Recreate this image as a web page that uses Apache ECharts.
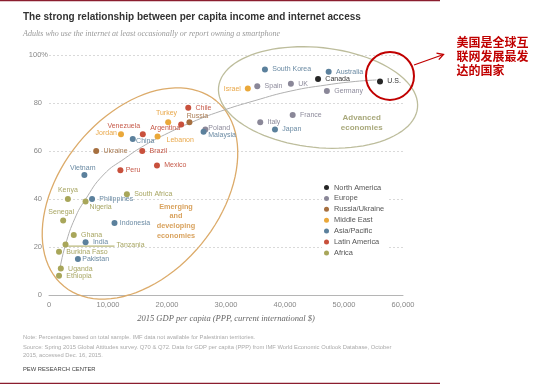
<!DOCTYPE html>
<html><head><meta charset="utf-8">
<script src="https://cdn.jsdelivr.net/npm/echarts@6/dist/echarts.min.js"></script>
<style>html,body{margin:0;padding:0;background:#fff}#c{width:547px;height:388px}</style>
</head><body><div id="c"></div>
<script>
// ---- data ----
const regions = ['North America','Europe','Russia/Ukraine','Middle East','Asia/Pacific','Latin America','Africa'];
const northAmerica = [['U.S.',56100,89],['Canada',45600,90]];
const europe = [['Spain',35300,87],['UK',41000,88],['Germany',47100,85],['France',41300,75],['Italy',35800,72],['Poland',26500,69]];
const russiaUkraine = [['Russia',23800,72],['Ukraine',8000,60]];
const middleEast = [['Israel',33700,86],['Turkey',20200,72],['Jordan',12200,67],['Lebanon',18400,66]];
const asiaPacific = [['South Korea',36600,94],['Australia',47400,93],['Japan',38300,69],['Malaysia',26200,68],['China',14200,65],['Vietnam',6000,50],['Philippines',7300,40],['Indonesia',11100,30],['India',6200,22],['Pakistan',4900,15]];
const latinAmerica = [['Chile',23600,78],['Venezuela',15900,67],['Argentina',22400,71],['Brazil',15800,60],['Peru',12100,52],['Mexico',18300,54]];
const africa = [['South Africa',13200,42],['Kenya',3200,40],['Nigeria',6200,39],['Senegal',2400,31],['Ghana',4200,25],['Tanzania',2800,21],['Burkina Faso',1700,18],['Uganda',2000,11],['Ethiopia',1700,8]];
const trendX = [1850, 2800, 4400, 6100, 9200, 12900, 16300, 20200, 24200, 29000, 34900, 41000, 47000, 52000, 55500];
const trendY = [11, 21, 32, 39.5, 50, 57, 62.5, 67.5, 72, 76.5, 81, 85, 87.5, 89, 89.6];
const xTicks = [0, 10000, 20000, 30000, 40000, 50000, 60000];
const yTicks = [0, 20, 40, 60, 80, 100];

// ---- styles ----
const dotColors = ['#262626','#8a8798','#a66f3f','#eaa83a','#5b809c','#c8503c','#a8a65a'];
const labelColors = ['#333333','#8e8c9c','#a87a52','#e9a84a','#6a8aa3','#c65a4a','#a8a663'];
const regionData = [northAmerica, europe, russiaUkraine, middleEast, asiaPacific, latinAmerica, africa];
const labelPlace = {
  'Turkey':[-1.7,-9,'center'], 'Russia':[-2.7,-5.7,'left'], 'Venezuela':[-2.7,-7.7,'right'],
  'Argentina':[-1,3.5,'right'], 'Jordan':[-4,-1,'right'], 'China':[3.3,1.7,'left'],
  'Lebanon':[9,3,'left'], 'Poland':[3,-1.5,'left'], 'Malaysia':[4.7,3,'left'],
  'Vietnam':[-1.7,-7,'center'], 'Kenya':[0,-8.7,'center'], 'Nigeria':[4,5.3,'left'],
  'Senegal':[-2,-8.3,'center'], 'Tanzania':[51,0.7,'left'], 'Israel':[-7,0,'right'],
  'Pakistan':[4.3,0,'left'], 'Indonesia':[5.3,0,'left'], 'Peru':[5.3,0,'left']
};
const SANS = 'Liberation Sans, Arial, sans-serif';
const SERIF = 'Liberation Serif, Times New Roman, serif';

const chart = echarts.init(document.getElementById('c'), null, {renderer:'canvas'});

const scatterSeries = regions.map((r, i) => ({
  name: r, type: 'scatter', symbolSize: 6, z: 5,
  itemStyle: {color: dotColors[i], opacity: 1},
  emphasis: {disabled: true},
  label: {show: true, fontSize: 7, fontFamily: SANS, color: labelColors[i], formatter: p => p.name},
  data: regionData[i].map(d => {
    const pl = labelPlace[d[0]] || [7.3, 0, 'left'];
    return {name: d[0], value: [d[1], d[2]],
      label: {position: [3 + pl[0], 3 + pl[1]], align: pl[2], verticalAlign: 'middle'}};
  })
}));

function findPoint(arr, name){ const d = arr.find(e => e[0] === name); return [d[1], d[2]]; }

// ellipse annotations: centre in data space, semi-axes in px, rotation in degrees (anticlockwise)
const ellipses = [
  {c:[15420, 42.3], a:120, b:79.5, rot:50.7, color:'#dcab6a'},
  {c:[45600, 82.3], a:100, b:50, rot:-6, color:'#bdbd9c'}
];
function ellipsePts(cx, cy, a, b, deg){
  const th = deg*Math.PI/180, pts = [];
  for (let k=0;k<96;k++){
    const t = k/96*2*Math.PI;
    pts.push([cx + a*Math.cos(t)*Math.cos(th) + b*Math.sin(t)*Math.sin(th),
              cy - a*Math.cos(t)*Math.sin(th) + b*Math.sin(t)*Math.cos(th)]);
  }
  return pts;
}

const usPt = findPoint(northAmerica, 'U.S.');
const tzPt = findPoint(africa, 'Tanzania');

const option = {
  animation: false,
  grid: {left: 49, right: 144, top: 55, bottom: 93, containLabel: false},
  xAxis: {type:'value', min: xTicks[0], max: xTicks[xTicks.length-1], interval: 10000,
    axisLine:{show:true, lineStyle:{color:'#b5b5b5', width:1}}, axisTick:{show:false},
    splitLine:{show:false},
    axisLabel:{fontSize:7.5, color:'#888', fontFamily:SANS, margin:6},
    name:'2015 GDP per capita (PPP, current international $)', nameLocation:'middle', nameGap:19,
    nameTextStyle:{fontFamily:SERIF, fontStyle:'italic', fontSize:8.5, color:'#666'}},
  yAxis: {type:'value', min: yTicks[0], max: yTicks[yTicks.length-1], interval: 20,
    axisLine:{show:false}, axisTick:{show:false},
    splitLine:{show:true, lineStyle:{color:'#d9d9d9', type:[2,2], width:1}},
    axisLabel:{fontSize:7.5, color:'#888', fontFamily:SANS, margin:1,
      formatter: v => v === 100 ? '100%' : '{n|' + v + '}',
      rich:{n:{fontSize:7.5, color:'#888', fontFamily:SANS, padding:[0,6,0,0]}}}},
  legend: {data: regions, orient:'vertical', left:322, top:181, icon:'circle', itemWidth:5, itemHeight:5,
    itemGap:1.9, padding:[2,3,2,2], backgroundColor:'#fff', selectedMode:false,
    textStyle:{fontSize:7.4, color:'#555', fontFamily:SANS, lineHeight:9}},
  series: [
    {name:'trend', type:'line', data: trendX.map((x,i)=>[x, trendY[i]]), smooth:true, symbol:'none',
      lineStyle:{color:'#b0b0b0', width:1}, z:2, silent:true},
    {name:'ellipses', type:'custom', z:1, silent:true, clip:false,
      data: ellipses.map(e => [e.c[0], e.c[1]]),
      renderItem: (params, api) => {
        const e = ellipses[params.dataIndex];
        const p = api.coord([api.value(0), api.value(1)]);
        return {type:'polygon', shape:{points: ellipsePts(p[0], p[1], e.a, e.b, e.rot)},
          style:{fill:'none', stroke:e.color, lineWidth:1.3}};
      }},
    {name:'callout', type:'custom', z:6, silent:true, clip:false,
      data: [usPt],
      renderItem: (params, api) => {
        const p = api.coord([api.value(0), api.value(1)]);
        return {type:'circle', shape:{cx:p[0]+10, cy:p[1]-5.5, r:24},
          style:{fill:'none', stroke:'#c00000', lineWidth:2}};
      }},
    {name:'leader', type:'custom', z:3, silent:true, clip:false,
      data: [tzPt],
      renderItem: (params, api) => {
        const p = api.coord([api.value(0), api.value(1)]);
        return {type:'line', shape:{x1:p[0]-2, y1:p[1]+1.5, x2:p[0]+49, y2:p[1]+1.5},
          style:{stroke:'#a8a65a', lineWidth:1}};
      }},
    ...scatterSeries
  ],
  graphic: [
    {type:'rect', left:0, top:0, shape:{width:440, height:1.3}, style:{fill:'#8b1d2e'}},
    {type:'rect', left:0, top:382.8, shape:{width:440, height:1.3}, style:{fill:'#8b1d2e'}},
    {type:'text', x:23, y:17.5, style:{text:'The strong relationship between per capita income and internet access',
      fontSize:10, fontWeight:'bold', fontFamily:SANS, fill:'#333', textVerticalAlign:'middle'}},
    {type:'text', x:23, y:33.5, style:{text:'Adults who use the internet at least occasionally or report owning a smartphone',
      fontSize:8, fontStyle:'italic', fontFamily:SERIF, fill:'#999', textVerticalAlign:'middle'}},
    {type:'text', x:361.7, y:117.3, style:{text:'Advanced', fontSize:8, fontWeight:'bold', fontFamily:SANS, fill:'#a9a97c', textAlign:'center', textVerticalAlign:'middle'}},
    {type:'text', x:361.7, y:127.5, style:{text:'economies', fontSize:8, fontWeight:'bold', fontFamily:SANS, fill:'#a9a97c', textAlign:'center', textVerticalAlign:'middle'}},
    {type:'text', x:176, y:206.7, style:{text:'Emerging', fontSize:7.3, fontWeight:'bold', fontFamily:SANS, fill:'#d9a35f', textAlign:'center', textVerticalAlign:'middle'}},
    {type:'text', x:176, y:216, style:{text:'and', fontSize:7.3, fontWeight:'bold', fontFamily:SANS, fill:'#d9a35f', textAlign:'center', textVerticalAlign:'middle'}},
    {type:'text', x:176, y:225.5, style:{text:'developing', fontSize:7.3, fontWeight:'bold', fontFamily:SANS, fill:'#d9a35f', textAlign:'center', textVerticalAlign:'middle'}},
    {type:'text', x:176, y:236, style:{text:'economies', fontSize:7.3, fontWeight:'bold', fontFamily:SANS, fill:'#d9a35f', textAlign:'center', textVerticalAlign:'middle'}},
    {type:'text', x:23, y:337.7, style:{text:'Note: Percentages based on total sample. IMF data not available for Palestinian territories.',
      fontSize:5.8, fontFamily:SANS, fill:'#aaa', textVerticalAlign:'middle'}},
    {type:'text', x:23, y:347.3, style:{text:'Source: Spring 2015 Global Attitudes survey. Q70 & Q72. Data for GDP per capita (PPP) from IMF World Economic Outlook Database, October',
      fontSize:5.8, fontFamily:SANS, fill:'#aaa', textVerticalAlign:'middle'}},
    {type:'text', x:23, y:355.8, style:{text:'2015, accessed Dec. 16, 2015.',
      fontSize:5.8, fontFamily:SANS, fill:'#aaa', textVerticalAlign:'middle'}},
    {type:'text', x:23, y:369, style:{text:'PEW RESEARCH CENTER',
      fontSize:5.8, fontFamily:SANS, fill:'#444', textVerticalAlign:'middle'}},
    {type:'line', shape:{x1:414, y1:65, x2:443.5, y2:54.5}, style:{stroke:'#c00000', lineWidth:1.3}},
    {type:'polyline', shape:{points:[[436.5,53.2],[443.5,54.5],[438.8,59.6]]}, style:{stroke:'#c00000', lineWidth:1.3, fill:'none'}},
    {type:'text', x:456.5, y:42, style:{text:'美国是全球互', fontSize:12, fontWeight:'bold', fontFamily:'Noto Sans CJK SC', fill:'#c00000', textVerticalAlign:'middle'}},
    {type:'text', x:456.5, y:56, style:{text:'联网发展最发', fontSize:12, fontWeight:'bold', fontFamily:'Noto Sans CJK SC', fill:'#c00000', textVerticalAlign:'middle'}},
    {type:'text', x:456.5, y:70, style:{text:'达的国家', fontSize:12, fontWeight:'bold', fontFamily:'Noto Sans CJK SC', fill:'#c00000', textVerticalAlign:'middle'}}
  ]
};
chart.setOption(option);
</script></body></html>
